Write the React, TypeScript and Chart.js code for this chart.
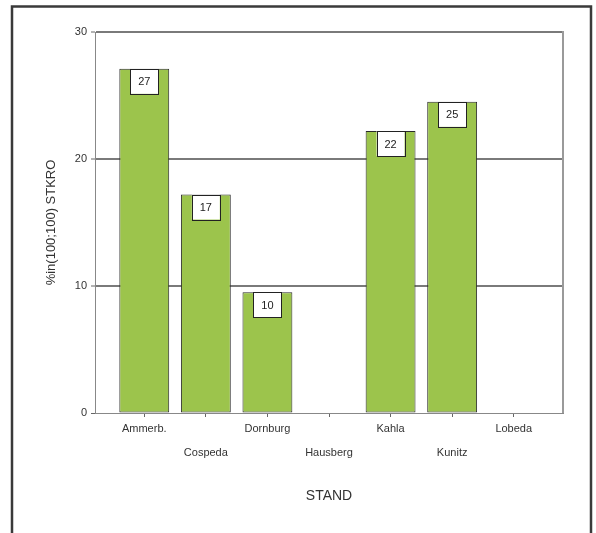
import { useEffect, useRef } from "react";
import { Chart, registerables } from "chart.js";

Chart.register(...registerables);

const categories = ["Ammerb.", "Cospeda", "Dornburg", "Hausberg", "Kahla", "Kunitz", "Lobeda"];
const values = [27.1, 17.2, 9.5, 0, 22.2, 24.5, 0];
const valueLabels = ["27", "17", "10", "", "22", "25", ""];
const yTicks = [0, 10, 20, 30];
const yTitle = "%in(100;100) STKRO";
const xTitle = "STAND";

const FONT = 'Arial, "Liberation Sans", sans-serif';

const framePlugin = {
  id: "frame",
  beforeDraw(chart: any) {
    const { ctx, width, height } = chart;
    ctx.save();
    ctx.fillStyle = "#ffffff";
    ctx.fillRect(0, 0, width, height);
    ctx.restore();
  },
  beforeDatasetsDraw(chart: any) {
    const { ctx, chartArea } = chart;
    ctx.save();
    ctx.strokeStyle = "#9a9a9a";
    ctx.lineWidth = 2;
    ctx.beginPath();
    ctx.moveTo(chartArea.right, chartArea.top - 1);
    ctx.lineTo(chartArea.right, chartArea.bottom);
    ctx.stroke();
    ctx.restore();
  },
  afterDraw(chart: any) {
    const { ctx, width } = chart;
    ctx.save();
    ctx.strokeStyle = "#3a3a3a";
    ctx.lineWidth = 2.5;
    ctx.strokeRect(12, 6.5, width - 12 - 5, 600);
    ctx.restore();
  },
};

const valueLabelPlugin = {
  id: "valueLabels",
  afterDatasetsDraw(chart: any) {
    const { ctx } = chart;
    const meta = chart.getDatasetMeta(0);
    ctx.save();
    meta.data.forEach((bar: any, i: number) => {
      if (!values[i] || !valueLabels[i]) return;
      const w = 28;
      const h = 25;
      const x = bar.x - w / 2;
      const y = bar.y;
      ctx.fillStyle = "#ffffff";
      ctx.fillRect(x, y, w, h);
      ctx.strokeStyle = "#222222";
      ctx.lineWidth = 1;
      ctx.strokeRect(Math.round(x) + 0.5, Math.round(y) + 0.5, w, h);
      ctx.fillStyle = "#222222";
      ctx.font = `11px ${FONT}`;
      ctx.textAlign = "center";
      ctx.textBaseline = "middle";
      ctx.fillText(valueLabels[i], bar.x, y + h / 2 + 1);
    });
    ctx.restore();
  },
};

export default function App() {
  const ref = useRef<HTMLCanvasElement | null>(null);

  useEffect(() => {
    if (!ref.current) return;
    const chart = new Chart(ref.current, {
      type: "bar",
      data: {
        datasets: [
          {
            data: categories.map((_, i) => ({ x: i, y: values[i] })),
            backgroundColor: "#9cc44c",
            borderColor: "#2a2a2a",
            borderWidth: (c: any) => (c.raw && c.raw.y > 0 ? 1 : 0),
            borderSkipped: false,
            categoryPercentage: 1,
            barPercentage: 0.81,
          } as any,
        ],
      },
      options: {
        responsive: false,
        animation: false,
        layout: { padding: { top: 32, right: 33, left: 0, bottom: 0 } },
        plugins: {
          legend: { display: false },
          tooltip: { enabled: false },
        },
        scales: {
          x: {
            type: "linear",
            offset: false,
            min: -0.8,
            max: 6.8,
            afterBuildTicks: (scale: any) => {
              scale.ticks = categories.map((_, i) => ({ value: i }));
            },
            afterFit: (scale: any) => {
              scale.height = 120;
            },
            ticks: {
              autoSkip: false,
              maxRotation: 0,
              padding: 0,
              color: "#333333",
              font: { family: FONT, size: 11, lineHeight: "24px" },
              callback: (v: any) => {
                const i = Math.round(Number(v));
                const c = categories[i] ?? "";
                return i % 2 === 1 ? ["", c] : c;
              },
            },
            grid: {
              drawOnChartArea: false,
              drawTicks: true,
              tickLength: 4,
              color: "#666666",
              offset: false,
            },
            border: { display: true, color: "#888888", width: 1 },
            title: {
              display: true,
              text: xTitle,
              color: "#333333",
              font: { family: FONT, size: 14 },
              padding: { top: 0, bottom: 28 },
            },
          },
          y: {
            min: 0,
            max: 30,
            afterBuildTicks: (scale: any) => {
              scale.ticks = yTicks.map((v) => ({ value: v }));
            },
            afterFit: (scale: any) => {
              scale.width = 95;
            },
            ticks: {
              padding: 4,
              color: "#333333",
              font: { family: FONT, size: 11 },
            },
            grid: {
              color: (c: any) => (c.tick && c.tick.value === 0 ? "#888888" : "#7a7a7a"),
              lineWidth: (c: any) => (c.tick && c.tick.value === 0 ? 1 : 2),
              tickLength: 4,
              tickColor: "#666666",
              tickWidth: 1,
            },
            border: { display: true, color: "#888888", width: 1 },
            title: {
              display: true,
              text: yTitle,
              color: "#333333",
              font: { family: FONT, size: 13 },
              padding: { top: 44, bottom: 0 },
            },
          },
        },
      },
      plugins: [framePlugin, valueLabelPlugin],
    } as any);
    return () => chart.destroy();
  }, []);

  return (
    <div style={{ position: "absolute", left: 0, top: 0, width: 596, height: 533 }}>
      <canvas ref={ref} width={596} height={533} style={{ display: "block", width: 596, height: 533 }} />
    </div>
  );
}
